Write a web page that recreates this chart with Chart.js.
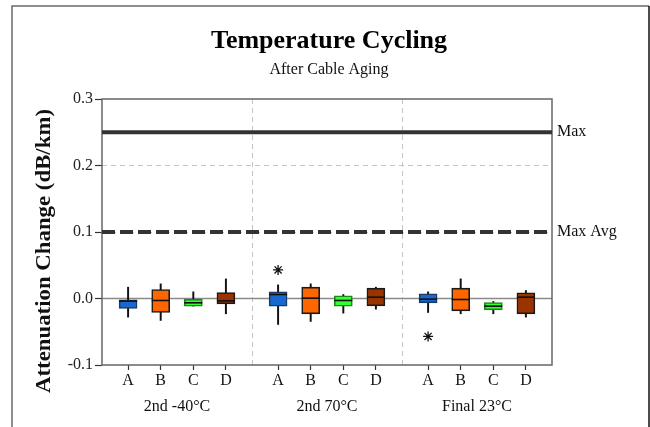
<!DOCTYPE html>
<html><head><meta charset="utf-8">
<script src="https://cdn.jsdelivr.net/npm/chart.js@4"></script>
<style>html,body{margin:0;padding:0;background:#fff}</style>
</head><body>
<canvas id="c" width="650" height="427"></canvas>
<script>
const title = 'Temperature Cycling';
const subtitle = 'After Cable Aging';
const yTitle = 'Attenuation Change (dB/km)';
const groups = ['2nd -40°C', '2nd 70°C', 'Final 23°C'];
const products = ['A', 'B', 'C', 'D'];
const yTicks = [-0.1, 0.0, 0.1, 0.2, 0.3];
// per group: [whiskerLow, q1, median, q3, whiskerHigh]
const boxA = [[-0.028, -0.015, -0.004, -0.002, 0.017], [-0.039, -0.0115, 0.006, 0.010, 0.0205], [-0.021, -0.0065, -0.001, 0.007, 0.010]];
const boxB = [[-0.033, -0.021, -0.003, 0.0135, 0.022], [-0.0345, -0.023, 0.0005, 0.017, 0.022], [-0.023, -0.0185, -0.0015, 0.0155, 0.0295]];
const boxC = [[-0.0115, -0.0115, -0.0065, -0.001, 0.010], [-0.022, -0.0115, -0.003, 0.004, 0.006], [-0.023, -0.017, -0.0115, -0.006, -0.0045]];
const boxD = [[-0.023, -0.008, -0.0035, 0.009, 0.0295], [-0.016, -0.011, 0.002, 0.0155, 0.017], [-0.028, -0.023, 0.002, 0.0085, 0.012]];
const outlierProduct = ['A', 'A'];
const outlierGroup = [1, 2];
const outlierValue = [0.043, -0.057];
const limitNames = ['Max', 'Max Avg'];
const limitValues = [0.25, 0.10];

const boxes = {A: boxA, B: boxB, C: boxC, D: boxD};
const fills = {A: '#1769cf', B: '#ff6600', C: '#33ff33', D: '#993300'};
const edges = {A: '#1b3a66', B: '#1a1a1a', C: '#178a17', D: '#1a1a1a'};
const SERIF = '"Liberation Serif", "Times New Roman", serif';

const GW = 4.6, OFF = 0.8, XMAX = 13.8;
const xPos = (g, i) => g * GW + OFF + i;
const tickPositions = [];
groups.forEach((_, g) => products.forEach((_, i) => tickPositions.push(xPos(g, i))));

const datasets = [];
products.forEach((p, i) => {
  const b = boxes[p];
  datasets.push({type: 'bar', label: p + ' range', data: b.map((s, g) => ({x: xPos(g, i), y: [s[0], s[4]]})),
    backgroundColor: '#111', borderWidth: 0, barThickness: 1.3, grouped: false, order: 3});
  datasets.push({type: 'bar', label: p, data: b.map((s, g) => ({x: xPos(g, i), y: [s[1], s[3]]})),
    backgroundColor: fills[p], borderColor: edges[p], borderWidth: 1.6, borderSkipped: false,
    barThickness: 18, grouped: false, order: 2});
  datasets.push({type: 'scatter', label: p + ' median', data: b.map((s, g) => ({x: xPos(g, i), y: s[2]})),
    pointStyle: 'line', radius: 9, hoverRadius: 9, borderColor: '#111', borderWidth: 1.6, order: 1});
});
datasets.push({type: 'scatter', label: 'outliers',
  data: outlierValue.map((v, k) => ({x: xPos(outlierGroup[k], products.indexOf(outlierProduct[k])), y: v})),
  pointStyle: 'star', radius: 5, hoverRadius: 5, borderColor: '#111', borderWidth: 1.3, order: 0});
limitValues.forEach((v, k) => {
  datasets.push({type: 'line', label: limitNames[k], data: [{x: 0, y: v}, {x: XMAX, y: v}],
    borderColor: '#333', borderWidth: 4, borderDash: k === 1 ? [13, 5] : [], pointRadius: 0, order: 4});
});

const deco = {
  id: 'deco',
  beforeDraw(chart) {
    const ctx = chart.ctx;
    ctx.save();
    ctx.fillStyle = '#fff';
    ctx.fillRect(0, 0, chart.width, chart.height);
    ctx.lineWidth = 1.5;
    ctx.strokeStyle = '#6a6a6a';
    ctx.beginPath(); ctx.moveTo(12, chart.height + 5); ctx.lineTo(12, 6); ctx.lineTo(649, 6); ctx.stroke();
    ctx.strokeStyle = '#111';
    ctx.beginPath(); ctx.moveTo(649, 6); ctx.lineTo(649, chart.height + 5); ctx.stroke();
    ctx.restore();
  },
  beforeDatasetsDraw(chart) {
    const {ctx, chartArea: a, scales: {x, y}} = chart;
    ctx.save();
    ctx.strokeStyle = '#c4c4c4'; ctx.lineWidth = 1; ctx.setLineDash([5, 4]);
    yTicks.filter(v => v > 0 && v < 0.3).forEach(v => {
      const py = Math.round(y.getPixelForValue(v)) + 0.5;
      ctx.beginPath(); ctx.moveTo(a.left, py); ctx.lineTo(a.right, py); ctx.stroke();
    });
    for (let g = 1; g < groups.length; g++) {
      const px = Math.round(x.getPixelForValue(g * GW)) + 0.5;
      ctx.beginPath(); ctx.moveTo(px, a.top); ctx.lineTo(px, a.bottom); ctx.stroke();
    }
    ctx.setLineDash([]);
    ctx.strokeStyle = '#8a8a8a'; ctx.lineWidth = 1.5;
    const zy = y.getPixelForValue(0);
    ctx.beginPath(); ctx.moveTo(a.left, zy); ctx.lineTo(a.right, zy); ctx.stroke();
    ctx.strokeStyle = '#666'; ctx.lineWidth = 1.5;
    ctx.strokeRect(a.left, a.top, a.right - a.left, a.bottom - a.top);
    ctx.restore();
  },
  afterDraw(chart) {
    const {ctx, chartArea: a, scales: {y}} = chart;
    ctx.save();
    ctx.fillStyle = '#111';
    ctx.font = '16px ' + SERIF;
    ctx.textBaseline = 'middle'; ctx.textAlign = 'left';
    limitValues.forEach((v, k) => ctx.fillText(limitNames[k], a.right + 5, y.getPixelForValue(v)));
    ctx.translate(45, a.top + 152);
    ctx.rotate(-Math.PI / 2);
    ctx.font = 'bold 20px ' + SERIF;
    const w = ctx.measureText(yTitle).width;
    ctx.scale(284 / w, 1);
    ctx.textAlign = 'center';
    ctx.fillText(yTitle, 0, 0);
    ctx.restore();
  }
};

new Chart(document.getElementById('c'), {
  type: 'bar',
  data: {datasets},
  plugins: [deco],
  options: {
    responsive: false,
    animation: false,
    events: [],
    layout: {padding: {left: 8, right: 0, top: 0, bottom: 6}},
    plugins: {
      legend: {display: false},
      tooltip: {enabled: false},
      title: {display: true, text: title, color: '#000', font: {family: SERIF, size: 26, weight: 'bold'}, padding: {top: 26, bottom: 0}},
      subtitle: {display: true, text: subtitle, color: '#111', font: {family: SERIF, size: 16}, padding: {top: 3, bottom: 19.6}}
    },
    scales: {
      x: {
        type: 'linear', min: 0, max: XMAX, offset: false, weight: 0,
        grid: {display: true, offset: false, drawOnChartArea: false, drawTicks: true, tickLength: 5, tickColor: '#333', tickWidth: 1.2},
        border: {display: false},
        afterBuildTicks: s => { s.ticks = tickPositions.map(v => ({value: v})); },
        afterFit: s => { s.height = 28; },
        ticks: {autoSkip: false, maxRotation: 0, padding: 1, color: '#111', font: {family: SERIF, size: 16},
          callback: (v, idx) => products[idx % products.length]}
      },
      groups: {
        type: 'category', position: 'bottom', labels: groups, offset: true, weight: 1,
        grid: {display: false, drawTicks: false}, border: {display: false},
        afterFit: s => { s.height = 28; },
        ticks: {padding: 4, color: '#111', font: {family: SERIF, size: 16}}
      },
      y: {
        type: 'linear', min: -0.1, max: 0.3,
        grid: {display: true, drawOnChartArea: false, drawTicks: true, tickLength: 7, tickColor: '#333', tickWidth: 1.2},
        border: {display: false},
        afterBuildTicks: s => { s.ticks = yTicks.map(v => ({value: v})); },
        afterFit: s => { s.width = 94; },
        ticks: {padding: 2, color: '#222', font: {family: SERIF, size: 16}, callback: v => Number(v).toFixed(1)}
      },
      side: {
        type: 'linear', position: 'right', min: 0, max: 1,
        grid: {display: false, drawTicks: false}, border: {display: false},
        ticks: {display: false},
        afterFit: s => { s.width = 98; }
      }
    }
  }
});
</script>
</body></html>
